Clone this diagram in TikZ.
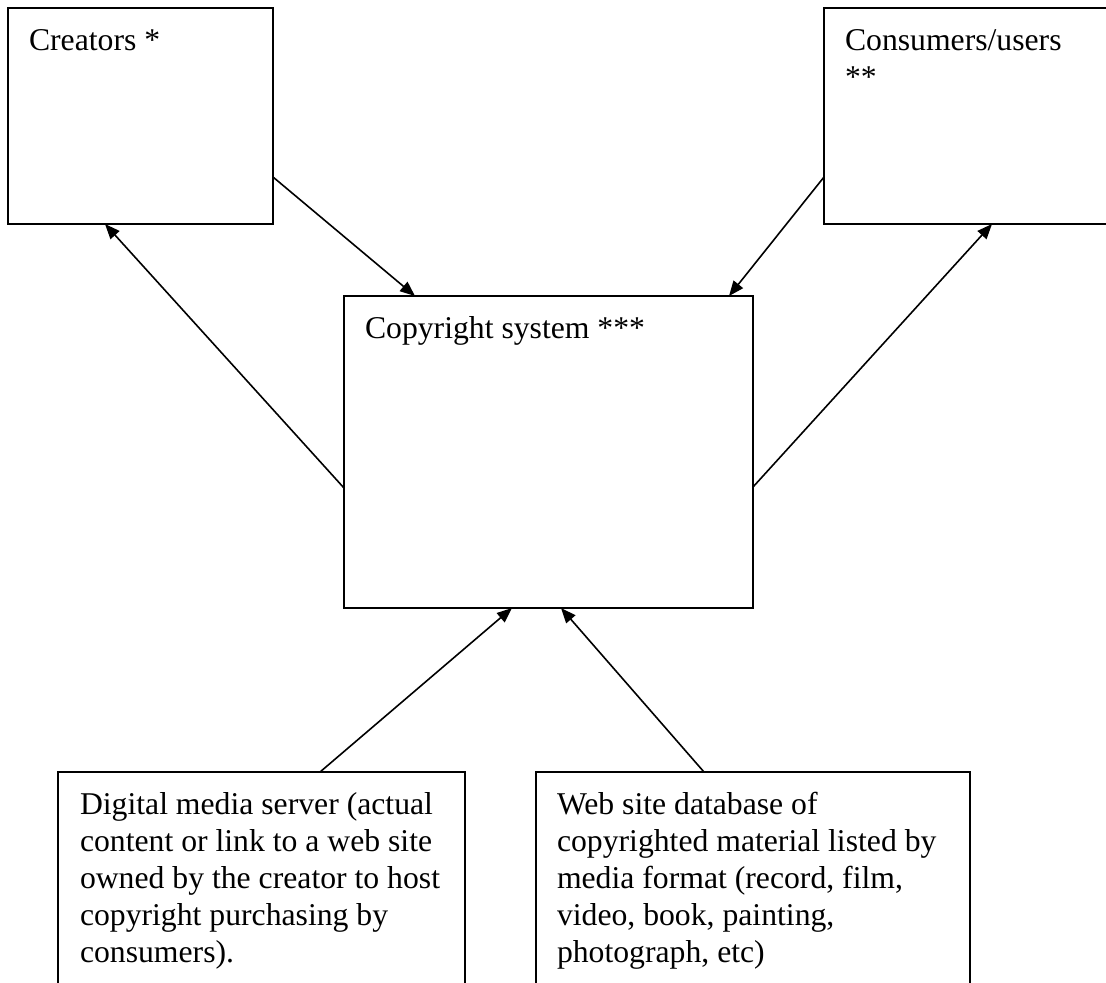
\documentclass[tikz,border=0pt]{standalone}
\usepackage{fontspec}
\setmainfont{Liberation Serif}
\usetikzlibrary{arrows.meta,calc}
\newcommand{\multiline}[1]{\vtop{\halign{##\hfil\cr #1\cr}}}
\begin{document}
\begin{tikzpicture}[x=0.5pt,y=-0.5pt,
  box/.style={draw, line width=1pt, inner sep=0pt, outer sep=0pt, rectangle},
  lbl/.style={anchor=base west, inner sep=0pt, outer sep=0pt, font=\fontsize{15.85}{18.5}\selectfont},
  arr/.style={line width=0.8pt, -{Triangle[length=7.5pt,width=6pt]}}]
\clip (0,0) rectangle (1106,982);
\fill[white] (0,0) rectangle (1106,982);
% boxes
\node[box, minimum width=132.5pt, minimum height=108pt] (cre) at (140.5,116) {};
\node[box, minimum width=148pt, minimum height=108pt] (con) at (972,116) {};
\node[box, minimum width=204.5pt, minimum height=156pt] (cop) at (548.5,452) {};
\node[box, minimum width=203.5pt, minimum height=114pt] (dig) at (261.5,886) {};
\node[box, minimum width=217pt, minimum height=114pt] (web) at (753,886) {};
% labels
\node[lbl] (creT) at ($(cre.north west)+(21,42)$) {Creators *};
\node[lbl] (conT) at ($(con.north west)+(21,42)$) {\multiline{Consumers/users\cr **}};
\node[lbl] (copT) at ($(cop.north west)+(21,42)$) {Copyright system ***};
\node[lbl] (digT) at ($(dig.north west)+(22,42)$) {\multiline{Digital media server (actual\cr content or link to a web site\cr owned by the creator to host\cr copyright purchasing by\cr consumers).}};
\node[lbl] (webT) at ($(web.north west)+(21,42)$) {\multiline{Web site database of\cr copyrighted material listed by\cr media format (record, film,\cr video, book, painting,\cr photograph, etc)}};
% connectors
\draw[arr] ($(cre.north east)+(0,169)$) -- ($(cop.north west)+(71,0)$);
\draw[arr] ($(cop.north west)+(0,192)$) -- ($(cre.south west)+(97,0)$);
\draw[arr] ($(con.north west)+(0,169)$) -- ($(cop.north west)+(385,0)$);
\draw[arr] ($(cop.north east)+(0,191)$) -- ($(con.south west)+(168,0)$);
\draw[arr] ($(dig.north west)+(262,0)$) -- ($(cop.south west)+(168,0)$);
\draw[arr] ($(web.north west)+(168,0)$) -- ($(cop.south west)+(217,0)$);
\end{tikzpicture}
\end{document}
